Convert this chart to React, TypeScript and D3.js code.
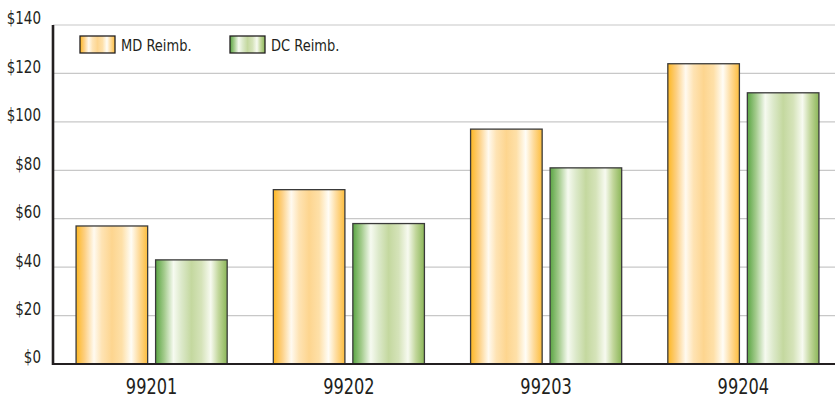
import React, { useEffect } from "react";
import * as d3 from "d3";

const categories = ["99201", "99202", "99203", "99204"];
const seriesNames = ["MD Reimb.", "DC Reimb."];
const mdValues = [57, 72, 97, 124];
const dcValues = [43, 58, 81, 112];
const yTicks = [0, 20, 40, 60, 80, 100, 120, 140];

const W = 835;
const H = 398;
const FONT = "'DejaVu Sans Condensed', 'Liberation Sans Narrow', 'Liberation Sans', sans-serif";

const mdStops: [number, string][] = [
  [0, "#fdb722"],
  [0.12, "#fdd083"],
  [0.25, "#fffaf0"],
  [0.36, "#fee3b3"],
  [0.5, "#fdd58f"],
  [0.64, "#fee0a8"],
  [0.77, "#fffdf6"],
  [0.88, "#fedb9b"],
  [1, "#fdbd3c"],
];
const dcStops: [number, string][] = [
  [0, "#5aa543"],
  [0.12, "#a3cb8c"],
  [0.25, "#f6faf0"],
  [0.36, "#dce9ca"],
  [0.5, "#c4d89f"],
  [0.64, "#d5e3b9"],
  [0.77, "#f7faf0"],
  [0.88, "#c1d69a"],
  [1, "#8bb658"],
];

export default function App() {
  useEffect(() => {
    document.body.style.margin = "0";
  }, []);

  const plotLeft = 53;
  const plotRight = 835;
  const y = d3.scaleLinear().domain([0, 140]).range([364, 25]);
  const x0 = d3.scaleBand<string>().domain(categories).range([53, 842]).paddingInner(0.234).paddingOuter(0.117);
  const x1 = d3.scaleBand<string>().domain(seriesNames).range([0, x0.bandwidth()]).paddingInner(0.1);

  const rows = categories.map((c, i) => ({ c, vals: [mdValues[i], dcValues[i]] }));
  const gradIds = ["gradMD", "gradDC"];

  return (
    <svg width={W} height={H} style={{ position: "absolute", left: 0, top: 0, background: "#fff" }}>
      <defs>
        {[mdStops, dcStops].map((stops, k) => (
          <linearGradient key={k} id={gradIds[k]} x1="0" x2="1" y1="0" y2="0">
            {stops.map(([o, c], j) => (
              <stop key={j} offset={o} stopColor={c} />
            ))}
          </linearGradient>
        ))}
      </defs>

      {/* gridlines */}
      {yTicks.filter((t) => t > 0).map((t) => (
        <line key={t} x1={plotLeft} x2={plotRight} y1={y(t)} y2={y(t)} stroke="#c8c8c8" strokeWidth={1.2} />
      ))}

      {/* y tick labels */}
      {yTicks.map((t) => (
        <text
          key={t}
          x={41}
          y={y(t) - 0.5}
          textAnchor="end"
          fontFamily={FONT}
          fontSize={15}
          fill="#231f20"
          transform={`translate(0,${y(t)}) scale(1,1.12) translate(0,${-y(t)})`}
        >
          {"$" + t}
        </text>
      ))}

      {/* bars */}
      {rows.map((r) => (
        <g key={r.c} transform={`translate(${x0(r.c)},0)`}>
          {r.vals.map((v, k) => (
            <rect
              key={k}
              x={x1(seriesNames[k])}
              y={y(v)}
              width={x1.bandwidth()}
              height={y(0) - y(v)}
              fill={`url(#${gradIds[k]})`}
              stroke="#3a3a3a"
              strokeWidth={1.3}
            />
          ))}
        </g>
      ))}

      {/* axes */}
      <line x1={plotLeft} x2={plotLeft} y1={y(140)} y2={y(0) + 1} stroke="#231f20" strokeWidth={2.6} />
      <line x1={plotLeft - 1} x2={plotRight} y1={y(0)} y2={y(0)} stroke="#231f20" strokeWidth={2.2} />

      {/* x labels */}
      {categories.map((c) => (
        <text
          key={c}
          x={(x0(c) as number) + x0.bandwidth() / 2}
          y={394}
          textAnchor="middle"
          fontFamily={FONT}
          fontSize={18}
          fill="#231f20"
          transform={`translate(0,394) scale(1,1.2) translate(0,-394)`}
        >
          {c}
        </text>
      ))}

      {/* legend */}
      {seriesNames.map((s, k) => {
        const lx = 80 + k * 150;
        return (
          <g key={s}>
            <rect x={lx} y={36} width={35} height={17} fill={`url(#${gradIds[k]})`} stroke="#231f20" strokeWidth={1.3} />
            <text
              x={lx + 41}
              y={51.5}
              fontFamily={FONT}
              fontSize={14.5}
              fill="#231f20"
              transform={`translate(0,51.5) scale(1,1.12) translate(0,-51.5)`}
            >
              {s}
            </text>
          </g>
        );
      })}
    </svg>
  );
}
